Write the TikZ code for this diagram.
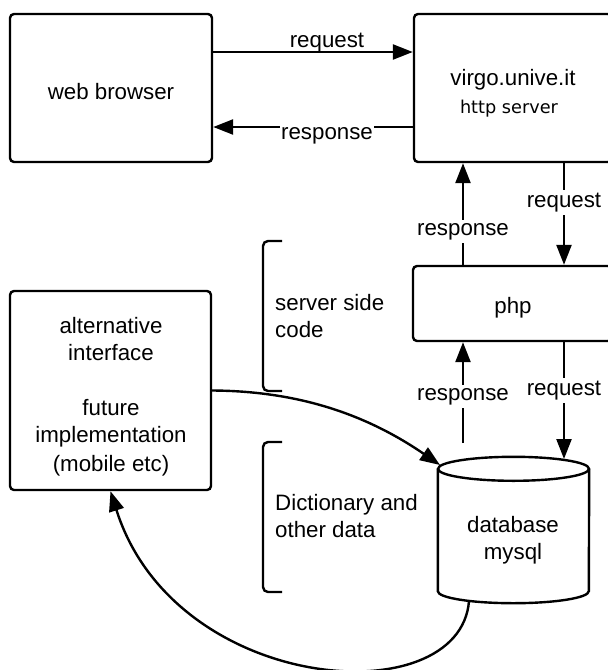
\documentclass[tikz,border=0pt]{standalone}
\usepackage{fontspec}
\setmainfont{Liberation Sans}
\newfontfamily\djv{DejaVu Sans}
\usetikzlibrary{arrows.meta}
\begin{document}
\begin{tikzpicture}[x=1pt,y=-1pt,
  box/.style={draw, line width=2.4pt, rounded corners=4pt, inner sep=0pt},
  txt/.style={font=\fontsize{22.3}{27}\selectfont, inner sep=0pt, anchor=base},
  ltxt/.style={txt, anchor=base west},
  lbl/.style={font=\fontsize{22.3}{27}\selectfont, fill=white, inner xsep=1pt, inner ysep=3pt, anchor=base},
  arr/.style={line width=2.4pt, -{Triangle[length=20pt,width=15pt]}},
  brk/.style={line width=2.4pt, rounded corners=5pt},
  cyl/.style={line width=2.4pt}]
\useasboundingbox (0,0) rectangle (608,670);
\clip (0,0) rectangle (608,670);
\fill[white] (0,0) rectangle (608,670);

% boxes
\node[box, minimum width=202pt, minimum height=148pt] (wb) at (111,88) {};
\node[box, minimum width=198pt, minimum height=148pt] (virgo) at (513,88) {};
\node[box, minimum width=199pt, minimum height=75pt] (php) at (512.5,303.5) {};
\node[box, minimum width=201pt, minimum height=199pt] (alt) at (110.5,390.5) {};
\node[minimum width=151pt, minimum height=146pt, inner sep=0pt] (db) at (513.5,530) {};

% cylinder
\draw[cyl] ([yshift=-12pt]db.north) ellipse [x radius=75.5pt, y radius=12pt];
\draw[cyl] ([yshift=-12pt]db.north west) -- ([yshift=12pt]db.south west)
  arc[start angle=180, end angle=360, x radius=75.5pt, y radius=12pt]
  -- ([yshift=-12pt]db.north east);

% texts
\node[txt] (twb) at (111,99) {web browser};
\node[txt] (tvirgo) at (513,85) {virgo.unive.it};
\node[txt, font=\djv\fontsize{17.7}{20}\selectfont] (thttp) at (509,113) {http server};
\node[txt] (tphp) at (513,313) {php};
\node[txt] (ta1) at (111,333) {alternative};
\node[txt] (ta2) at (111,360) {interface};
\node[txt] (ta3) at (111,415) {future};
\node[txt] (ta4) at (111,442) {implementation};
\node[txt] (ta5) at (111,471) {(mobile etc)};
\node[ltxt] (ts1) at (275,310) {server side};
\node[ltxt] (ts2) at (275,337) {code};
\node[ltxt] (td1) at (275,510) {Dictionary and};
\node[ltxt] (td2) at (275,537) {other data};
\node[txt] (tdb1) at (513,532) {database};
\node[txt] (tdb2) at (513,559) {mysql};

% brackets
\draw[brk] (282,241) -- (263,241) -- (263,391) -- (282,391);
\draw[brk] (282,442) -- (263,442) -- (263,592) -- (282,592);

% connectors
\coordinate (a1) at (0,52);
\coordinate (a2) at (0,127);
\coordinate (cx1) at (463,0);
\coordinate (cx2) at (564,0);
\coordinate (dbr) at (463,443);
\coordinate (dbq) at (564,459);
\coordinate (dbtl) at (440,465);
\coordinate (dbb) at (469,601);

\draw[arr] (wb.east |- a1) -- (virgo.west |- a1);
\draw[arr] (virgo.west |- a2) -- (wb.east |- a2);
\draw[arr] (php.north -| cx1) -- (virgo.south -| cx1);
\draw[arr] (virgo.south -| cx2) -- (php.north -| cx2);
\draw[arr] (dbr) -- (php.south -| cx1);
\draw[arr] (php.south -| cx2) -- (dbq);
\draw[arr] (alt.east) .. controls (290,391) and (360,410) .. (dbtl);
\draw[arr] (dbb) .. controls (460,715) and (175,695) .. (alt.south);

% labels
\node[txt] (lreq1) at (327,47) {request};
\node[lbl] (lresp1) at (327,139) {response};
\node[lbl] (lresp2) at (463,235) {response};
\node[lbl] (lreq2) at (564,207) {request};
\node[lbl] (lresp3) at (463,400) {response};
\node[lbl] (lreq3) at (564,395) {request};
\end{tikzpicture}
\end{document}
